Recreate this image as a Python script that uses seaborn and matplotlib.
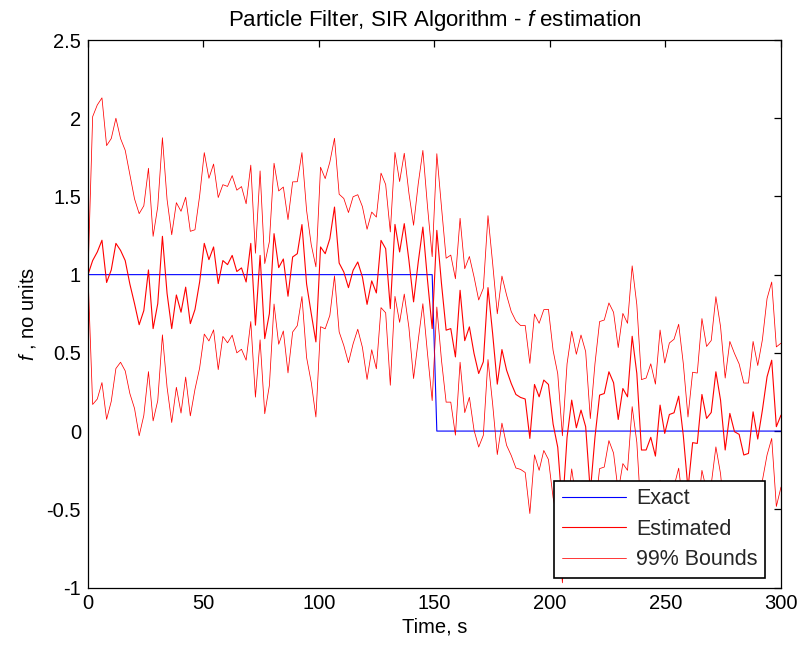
import numpy as np
import pandas as pd
import matplotlib
matplotlib.use("Agg")
import matplotlib.pyplot as plt
import seaborn as sns

# ---- data ----
time_s = np.linspace(0, 300, 150)

estimated = [
    1.0, 1.09, 1.145, 1.22, 0.95, 1.03, 1.20, 1.155, 1.09, 0.94, 0.815, 0.68, 0.77, 1.03, 0.655, 0.815, 1.245, 0.88, 0.655, 0.87, 0.76,
    0.92, 0.687, 0.777, 0.953, 1.20, 1.096, 1.177, 0.943, 1.09, 1.064, 1.123, 1.02, 1.043, 0.953, 1.20, 0.677, 1.123, 0.591, 0.751, 1.262,
    1.045, 1.10, 0.862, 1.113, 1.134, 1.32, 0.94, 0.751, 0.57, 1.177, 1.134, 1.23, 1.432, 1.074, 1.017, 0.917, 1.028, 1.081, 0.985, 0.81, 0.96,
    0.883, 1.219, 1.166, 0.783, 1.321, 1.145, 1.326, 1.091, 0.826, 1.08, 1.304, 0.964, 0.655, 1.283, 0.943, 0.645, 0.655, 0.474, 0.9, 0.578,
    0.666, 0.496, 0.368, 0.443, 0.917, 0.623, 0.30, 0.521, 0.389, 0.304, 0.234, 0.215, 0.205,
    -0.047, 0.298, 0.219, 0.326, 0.298, 0.045, -0.104, -0.50, -0.04, 0.198, 0.021, 0.134, 0.028, -0.39,
    -0.04, 0.23, 0.24, 0.379, 0.309, 0.074, 0.272, 0.219, 0.606, 0.368, -0.121, -0.121, -0.04, -0.16,
    0.166, -0.015, 0.106, 0.117, 0.223, -0.03, -0.37, -0.074, -0.079, 0.234, 0.081, 0.119, 0.379,
    0.198, -0.121, 0.113, -0.004, -0.021, -0.153, -0.143, 0.123, -0.051, 0.134, 0.347, 0.453, 0.028, 0.102,
]

half_width = [
    0.0,
    0.92, 0.94, 0.91, 0.875, 0.84, 0.80, 0.715, 0.705, 0.70, 0.67, 0.71, 0.67, 0.65, 0.59, 0.62, 0.63, 0.60, 0.60, 0.59, 0.645,
    0.575, 0.59, 0.51, 0.55, 0.58, 0.52, 0.53, 0.55, 0.485, 0.50, 0.51, 0.52, 0.52, 0.50, 0.50, 0.46, 0.54, 0.48, 0.46, 0.45,
    0.49, 0.46, 0.49, 0.48, 0.46, 0.46, 0.47, 0.44, 0.48, 0.51, 0.48, 0.49, 0.44, 0.44, 0.47, 0.48, 0.47, 0.43, 0.45, 0.48, 0.44,
    0.485, 0.43, 0.41, 0.49, 0.46, 0.45, 0.45, 0.43, 0.49, 0.50, 0.49, 0.47, 0.46, 0.49, 0.49, 0.46, 0.47, 0.50, 0.46, 0.46,
    0.45, 0.49, 0.47, 0.47, 0.46, 0.45, 0.45, 0.47, 0.48, 0.46, 0.47, 0.46, 0.47,
    0.48, 0.45, 0.47, 0.45, 0.48, 0.47, 0.47, 0.47, 0.47, 0.44, 0.47, 0.48, 0.48, 0.47,
    0.47, 0.47, 0.47, 0.44, 0.45, 0.46, 0.48, 0.47, 0.45, 0.44, 0.45, 0.46, 0.47, 0.46,
    0.48, 0.45, 0.457, 0.47, 0.46, 0.46, 0.46, 0.45, 0.45, 0.485, 0.46, 0.46, 0.48,
    0.47, 0.46, 0.46, 0.50, 0.45, 0.46, 0.45, 0.45, 0.47, 0.45, 0.50, 0.50, 0.51, 0.46,
]

exact = [1.0] * 75 + [0.0] * 75

x_ticks = [0, 50, 100, 150, 200, 250, 300]
y_ticks = [-1, -0.5, 0, 0.5, 1, 1.5, 2, 2.5]
y_tick_labels = ["-1", "-0.5", "0", "0.5", "1", "1.5", "2", "2.5"]

# ---- style ----
sns.set_theme(style="white")
plt.rcParams["font.family"] = ["Liberation Sans", "DejaVu Sans"]
plt.rcParams["mathtext.fontset"] = "custom"
plt.rcParams["mathtext.it"] = "Liberation Sans:italic"
plt.rcParams["mathtext.rm"] = "Liberation Sans"
plt.rcParams["axes.unicode_minus"] = False

df = pd.DataFrame({
    "t": time_s,
    "est": estimated,
    "hw": half_width,
    "exact": exact,
})
df["upper"] = df["est"] + df["hw"]
df["lower"] = df["est"] - df["hw"]

fig = plt.figure(figsize=(8.03, 6.46), dpi=100)
ax = fig.add_axes([88 / 803, 1 - 587.5 / 646, 693 / 803, 547.5 / 646])

sns.lineplot(data=df, x="t", y="exact", ax=ax, color="#0000FF", linewidth=0.8,
             label="Exact", estimator=None, sort=False)
sns.lineplot(data=df, x="t", y="est", ax=ax, color="#FF0000", linewidth=0.8,
             label="Estimated", estimator=None, sort=False)
sns.lineplot(data=df, x="t", y="upper", ax=ax, color="#FF0000", linewidth=0.55,
             label="99% Bounds", estimator=None, sort=False)
sns.lineplot(data=df, x="t", y="lower", ax=ax, color="#FF0000", linewidth=0.55,
             label="_nolegend_", estimator=None, sort=False)

ax.set_xlim(0, 300)
ax.set_ylim(-1, 2.5)
ax.set_xticks(x_ticks)
ax.set_yticks(y_ticks)
ax.set_yticklabels(y_tick_labels)

for sp in ax.spines.values():
    sp.set_color("black")
    sp.set_linewidth(0.9)
    sp.set_visible(True)

ax.tick_params(axis="both", which="both", direction="in", top=True, right=True,
               length=5, width=0.9, color="black", labelsize=14.5, labelcolor="black",
               pad=5)

ax.set_title(r"Particle Filter, SIR Algorithm - $\mathit{f}$ estimation",
             fontsize=16, color="black", pad=10)
ax.set_xlabel("Time, s", fontsize=14.5, color="black", labelpad=3)
ax.set_ylabel(r"$\mathit{f}$ , no units", fontsize=14.5, color="black", labelpad=6)

leg = ax.legend(loc="lower right", bbox_to_anchor=(0.977, 0.0174),
                fontsize=15.5, frameon=True, fancybox=False,
                edgecolor="black", framealpha=1.0, handlelength=3.0,
                borderaxespad=0.0, labelspacing=0.45, handletextpad=0.45,
                borderpad=0.35)
leg.get_frame().set_linewidth(1.2)

fig.savefig("out.png", dpi=100)
